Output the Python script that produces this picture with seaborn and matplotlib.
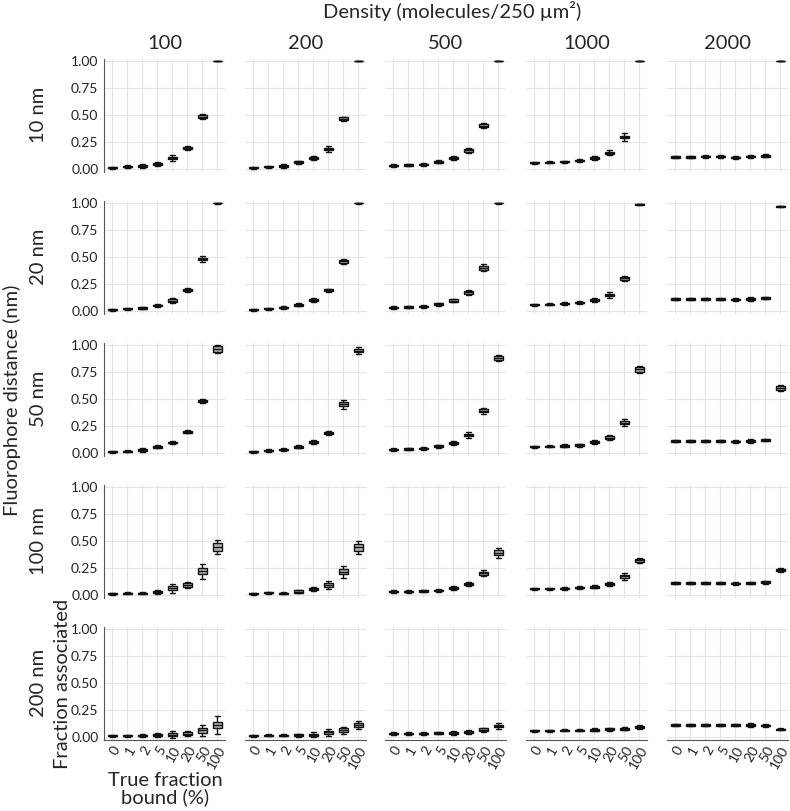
import numpy as np
import pandas as pd
import seaborn as sns
import matplotlib.pyplot as plt

bound = ["0", "1", "2", "5", "10", "20", "50", "100"]
densities = ["100", "200", "500", "1000", "2000"]
distances = ["10 nm", "20 nm", "50 nm", "100 nm", "200 nm"]

# medians, half box height, half whisker span  (one row per density)
med_10 = [
    [0.010, 0.020, 0.025, 0.045, 0.100, 0.195, 0.485, 1.000],
    [0.010, 0.020, 0.025, 0.060, 0.100, 0.185, 0.465, 1.000],
    [0.030, 0.035, 0.040, 0.065, 0.100, 0.170, 0.400, 1.000],
    [0.055, 0.060, 0.065, 0.075, 0.100, 0.150, 0.295, 1.000],
    [0.110, 0.110, 0.115, 0.115, 0.105, 0.115, 0.120, 1.000],
]
iqr_10 = [
    [0.006, 0.006, 0.007, 0.008, 0.012, 0.010, 0.010, 0.000],
    [0.005, 0.006, 0.006, 0.008, 0.008, 0.012, 0.012, 0.000],
    [0.006, 0.006, 0.006, 0.008, 0.010, 0.012, 0.012, 0.000],
    [0.006, 0.006, 0.006, 0.006, 0.010, 0.010, 0.012, 0.000],
    [0.007, 0.006, 0.006, 0.007, 0.006, 0.007, 0.008, 0.000],
]
whisk_10 = [
    [0.010, 0.012, 0.015, 0.015, 0.025, 0.018, 0.020, 0.003],
    [0.010, 0.010, 0.015, 0.015, 0.015, 0.025, 0.020, 0.003],
    [0.010, 0.010, 0.010, 0.015, 0.020, 0.025, 0.025, 0.003],
    [0.010, 0.010, 0.010, 0.012, 0.020, 0.020, 0.035, 0.003],
    [0.012, 0.010, 0.012, 0.012, 0.012, 0.012, 0.015, 0.003],
]

med_20 = [
    [0.010, 0.020, 0.025, 0.050, 0.095, 0.195, 0.480, 1.000],
    [0.010, 0.020, 0.030, 0.055, 0.100, 0.190, 0.460, 1.000],
    [0.030, 0.035, 0.040, 0.060, 0.095, 0.170, 0.400, 1.000],
    [0.055, 0.060, 0.065, 0.075, 0.100, 0.145, 0.300, 0.990],
    [0.110, 0.110, 0.110, 0.110, 0.105, 0.110, 0.120, 0.970],
]
iqr_20 = [
    [0.005, 0.006, 0.007, 0.008, 0.010, 0.010, 0.012, 0.002],
    [0.005, 0.006, 0.007, 0.008, 0.010, 0.008, 0.012, 0.002],
    [0.006, 0.006, 0.007, 0.008, 0.010, 0.012, 0.018, 0.002],
    [0.006, 0.006, 0.006, 0.007, 0.010, 0.012, 0.012, 0.004],
    [0.007, 0.006, 0.006, 0.006, 0.008, 0.008, 0.007, 0.005],
]
whisk_20 = [
    [0.010, 0.010, 0.012, 0.015, 0.020, 0.020, 0.025, 0.004],
    [0.010, 0.010, 0.012, 0.015, 0.018, 0.015, 0.025, 0.004],
    [0.010, 0.010, 0.012, 0.015, 0.018, 0.022, 0.035, 0.004],
    [0.010, 0.010, 0.012, 0.012, 0.020, 0.025, 0.025, 0.006],
    [0.012, 0.010, 0.010, 0.012, 0.015, 0.015, 0.012, 0.008],
]

med_50 = [
    [0.010, 0.015, 0.025, 0.055, 0.095, 0.195, 0.480, 0.965],
    [0.010, 0.020, 0.030, 0.055, 0.100, 0.185, 0.450, 0.950],
    [0.030, 0.035, 0.040, 0.060, 0.090, 0.165, 0.390, 0.880],
    [0.055, 0.060, 0.065, 0.070, 0.100, 0.140, 0.280, 0.775],
    [0.110, 0.110, 0.110, 0.110, 0.105, 0.110, 0.120, 0.600],
]
iqr_50 = [
    [0.005, 0.006, 0.007, 0.008, 0.008, 0.008, 0.012, 0.025],
    [0.005, 0.006, 0.007, 0.008, 0.008, 0.010, 0.020, 0.018],
    [0.006, 0.006, 0.007, 0.008, 0.010, 0.012, 0.015, 0.015],
    [0.006, 0.006, 0.007, 0.007, 0.010, 0.012, 0.015, 0.020],
    [0.007, 0.006, 0.006, 0.007, 0.006, 0.008, 0.008, 0.018],
]
whisk_50 = [
    [0.010, 0.012, 0.015, 0.015, 0.015, 0.015, 0.020, 0.040],
    [0.010, 0.012, 0.012, 0.015, 0.015, 0.020, 0.040, 0.030],
    [0.010, 0.010, 0.012, 0.015, 0.020, 0.025, 0.030, 0.025],
    [0.010, 0.010, 0.012, 0.012, 0.020, 0.025, 0.030, 0.030],
    [0.012, 0.010, 0.010, 0.012, 0.010, 0.015, 0.012, 0.028],
]

med_100 = [
    [0.010, 0.015, 0.015, 0.025, 0.060, 0.090, 0.220, 0.445],
    [0.010, 0.020, 0.015, 0.030, 0.055, 0.090, 0.215, 0.440],
    [0.030, 0.030, 0.035, 0.040, 0.065, 0.100, 0.200, 0.390],
    [0.055, 0.055, 0.060, 0.065, 0.075, 0.100, 0.170, 0.320],
    [0.110, 0.110, 0.110, 0.110, 0.105, 0.110, 0.115, 0.230],
]
iqr_100 = [
    [0.006, 0.006, 0.006, 0.008, 0.018, 0.015, 0.030, 0.035],
    [0.006, 0.006, 0.006, 0.010, 0.012, 0.018, 0.025, 0.030],
    [0.006, 0.006, 0.008, 0.008, 0.010, 0.010, 0.015, 0.025],
    [0.006, 0.006, 0.007, 0.006, 0.008, 0.010, 0.018, 0.015],
    [0.007, 0.007, 0.007, 0.007, 0.007, 0.008, 0.010, 0.010],
]
whisk_100 = [
    [0.010, 0.010, 0.012, 0.015, 0.040, 0.025, 0.070, 0.065],
    [0.010, 0.010, 0.012, 0.018, 0.020, 0.035, 0.055, 0.060],
    [0.010, 0.010, 0.012, 0.015, 0.018, 0.015, 0.030, 0.045],
    [0.010, 0.010, 0.012, 0.012, 0.012, 0.015, 0.030, 0.025],
    [0.012, 0.012, 0.012, 0.012, 0.012, 0.012, 0.015, 0.018],
]

med_200 = [
    [0.010, 0.010, 0.010, 0.015, 0.020, 0.030, 0.060, 0.110],
    [0.010, 0.015, 0.015, 0.015, 0.020, 0.040, 0.060, 0.110],
    [0.030, 0.030, 0.030, 0.035, 0.035, 0.045, 0.065, 0.100],
    [0.055, 0.055, 0.060, 0.060, 0.065, 0.070, 0.075, 0.090],
    [0.110, 0.110, 0.110, 0.110, 0.110, 0.110, 0.105, 0.070],
]
iqr_200 = [
    [0.005, 0.005, 0.006, 0.010, 0.015, 0.012, 0.025, 0.030],
    [0.005, 0.006, 0.006, 0.008, 0.010, 0.015, 0.020, 0.020],
    [0.006, 0.006, 0.006, 0.006, 0.008, 0.008, 0.012, 0.012],
    [0.006, 0.006, 0.006, 0.006, 0.007, 0.008, 0.010, 0.010],
    [0.007, 0.007, 0.007, 0.007, 0.007, 0.008, 0.007, 0.006],
]
whisk_200 = [
    [0.010, 0.010, 0.012, 0.020, 0.030, 0.025, 0.050, 0.080],
    [0.010, 0.010, 0.012, 0.015, 0.020, 0.030, 0.035, 0.040],
    [0.010, 0.010, 0.010, 0.012, 0.015, 0.015, 0.020, 0.025],
    [0.010, 0.010, 0.010, 0.010, 0.012, 0.012, 0.015, 0.020],
    [0.012, 0.012, 0.012, 0.012, 0.012, 0.015, 0.012, 0.010],
]

meds = [med_10, med_20, med_50, med_100, med_200]
iqrs = [iqr_10, iqr_20, iqr_50, iqr_100, iqr_200]
whisks = [whisk_10, whisk_20, whisk_50, whisk_100, whisk_200]


def five_numbers(m, h, w):
    # min, q1, median, q3, max -> boxplot with whis=inf reproduces them exactly
    return [m - w, m - h, m, m + h, m + w]


rows = []
for i, dist in enumerate(distances):
    for j, dens in enumerate(densities):
        for k, b in enumerate(bound):
            for v in five_numbers(meds[i][j][k], iqrs[i][j][k], whisks[i][j][k]):
                rows.append({"distance": dist, "density": dens, "bound": b, "value": v})
df = pd.DataFrame(rows)

sns.set_style("white")
plt.rcParams["font.family"] = ["Lato", "DejaVu Sans"]

W, H = 790, 811
fig = plt.figure(figsize=(W / 100, H / 100), dpi=100)

col_left = [104, 245, 385, 526, 667]
ax_w = 121
ax_h = 113

for i, dist in enumerate(distances):
    top = 59 + 142 * i
    for j, dens in enumerate(densities):
        ax = fig.add_axes([col_left[j] / W, 1 - (top + ax_h) / H, ax_w / W, ax_h / H])
        sub = df[(df["distance"] == dist) & (df["density"] == dens)]
        sns.boxplot(data=sub, x="bound", y="value", order=bound, ax=ax,
                    whis=np.inf, width=0.62, color="0.5", linecolor="#111111",
                    linewidth=1.0, showfliers=False,
                    boxprops={"facecolor": (0.45, 0.45, 0.45, 0.55)})
        ax.set_xlim(-0.55, 7.5)
        ax.set_ylim(-0.03, 1.02)
        ax.set_yticks([0, 0.25, 0.5, 0.75, 1.0])
        ax.grid(True, color="#e4e4e4", linewidth=0.8)
        ax.set_axisbelow(True)
        ax.set_xlabel("")
        ax.set_ylabel("")
        for s in ax.spines.values():
            s.set_visible(False)
        ax.tick_params(length=0, labelsize=10, colors="#222222", pad=2)
        if j == 0:
            ax.spines["left"].set_visible(True)
            ax.spines["left"].set_color("#555555")
            ax.set_yticklabels(["0.00", "0.25", "0.50", "0.75", "1.00"])
            ax.tick_params(axis="y", length=2, color="#555555")
        else:
            ax.set_yticklabels([])
        if i == len(distances) - 1:
            ax.spines["bottom"].set_visible(True)
            ax.spines["bottom"].set_color("#555555")
            ax.set_xticks(range(len(bound)))
            ax.set_xticklabels(bound, rotation=60, ha="right",
                               rotation_mode="anchor", fontsize=10)
            ax.tick_params(axis="x", pad=3)
        else:
            ax.set_xticklabels([])
        if i == 0:
            ax.set_title(dens, fontsize=14.5, pad=7)
    fig.text(38 / W, 1 - (top + 56) / H, dist, rotation=90,
             ha="center", va="center", fontsize=14.5)

fig.text(452 / W, 1 - 11 / H, "Density (molecules/250 µm²)",
         ha="center", va="center", fontsize=14.5)
fig.text(12 / W, 1 - 400 / H, "Fluorophore distance (nm)", rotation=90,
         ha="center", va="center", fontsize=14.5)
fig.text(62 / W, 1 - 684 / H, "Fraction associated", rotation=90,
         ha="center", va="center", fontsize=14.5)
fig.text(165 / W, 1 - 789 / H, "True fraction\nbound (%)",
         ha="center", va="center", fontsize=14.5, linespacing=1.0)

fig.savefig("out.png", dpi=100)
